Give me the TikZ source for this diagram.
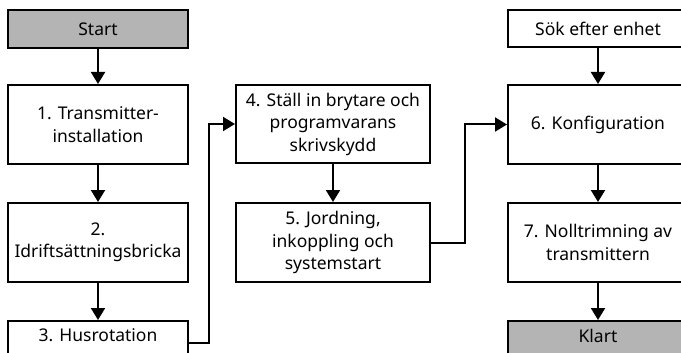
\documentclass[tikz,border=0pt]{standalone}
\usepackage{fontspec}
\setmainfont{Noto Sans}
\usetikzlibrary{arrows.meta,calc}
\definecolor{boxgray}{RGB}{180,180,180}
\tikzset{
  every node/.style={font=\fontsize{17.5}{22.5}\selectfont},
  flowbox/.style={draw=black, line width=2pt, fill=white, align=center, inner sep=0pt},
  termbox/.style={flowbox, fill=boxgray},
  conn/.style={line width=2pt, -{Triangle[width=14pt,length=12pt]}}
}
\begin{document}
\begin{tikzpicture}[x=1pt,y=-1pt]
\useasboundingbox (0,0) rectangle (681,353);
\clip (0,0) rectangle (681,353);
% left column
\node[termbox, minimum width=180pt, minimum height=38pt] (start) at (98,29) {Start};
\node[flowbox, minimum width=180pt, minimum height=79pt] (b1) at (98,124.5) {1. Transmitter-\\installation};
\node[flowbox, minimum width=180pt, minimum height=79pt] (b2) at (98,242.5) {2.\\Idriftsättningsbricka};
\node[flowbox, minimum width=180pt, anchor=north, inner ysep=0pt, text height=20pt, text depth=18pt] (b3) at (98,320) {3. Husrotation};
% middle column
\node[flowbox, minimum width=194pt, minimum height=78pt] (b4) at (333,124) {4. Ställ in brytare och\\programvarans\\skrivskydd};
\node[flowbox, minimum width=194pt, minimum height=79pt] (b5) at (333,242.5) {5. Jordning,\\inkoppling och\\systemstart};
% right column
\node[flowbox, minimum width=180pt, minimum height=37pt] (sok) at (598,28.5) {Sök efter enhet};
\node[flowbox, minimum width=180pt, minimum height=79pt] (b6) at (598,124.5) {6. Konfiguration};
\node[flowbox, minimum width=180pt, minimum height=79pt] (b7) at (598,242.5) {7. Nolltrimning av\\transmittern};
\node[termbox, minimum width=180pt, anchor=north, inner ysep=0pt, text height=21pt, text depth=17pt] (klart) at (598,320) {Klart};
% connectors
\draw[conn] (start) -- (b1);
\draw[conn] (b1) -- (b2);
\draw[conn] (b2) -- (b3);
\coordinate (c3) at ($(b3.east)+(0,3)$);
\coordinate (k1) at ($(b4.west)+(-26,0)$);
\draw[conn] (c3) -| (k1) -- (b4.west);
\draw[conn] (b4) -- (b5);
\coordinate (k2) at ($(b6.west)+(-42,0)$);
\draw[conn] (b5.east) -| (k2) -- (b6.west);
\draw[conn] (sok) -- (b6);
\draw[conn] (b6) -- (b7);
\draw[conn] (b7) -- (klart);
\end{tikzpicture}
\end{document}
